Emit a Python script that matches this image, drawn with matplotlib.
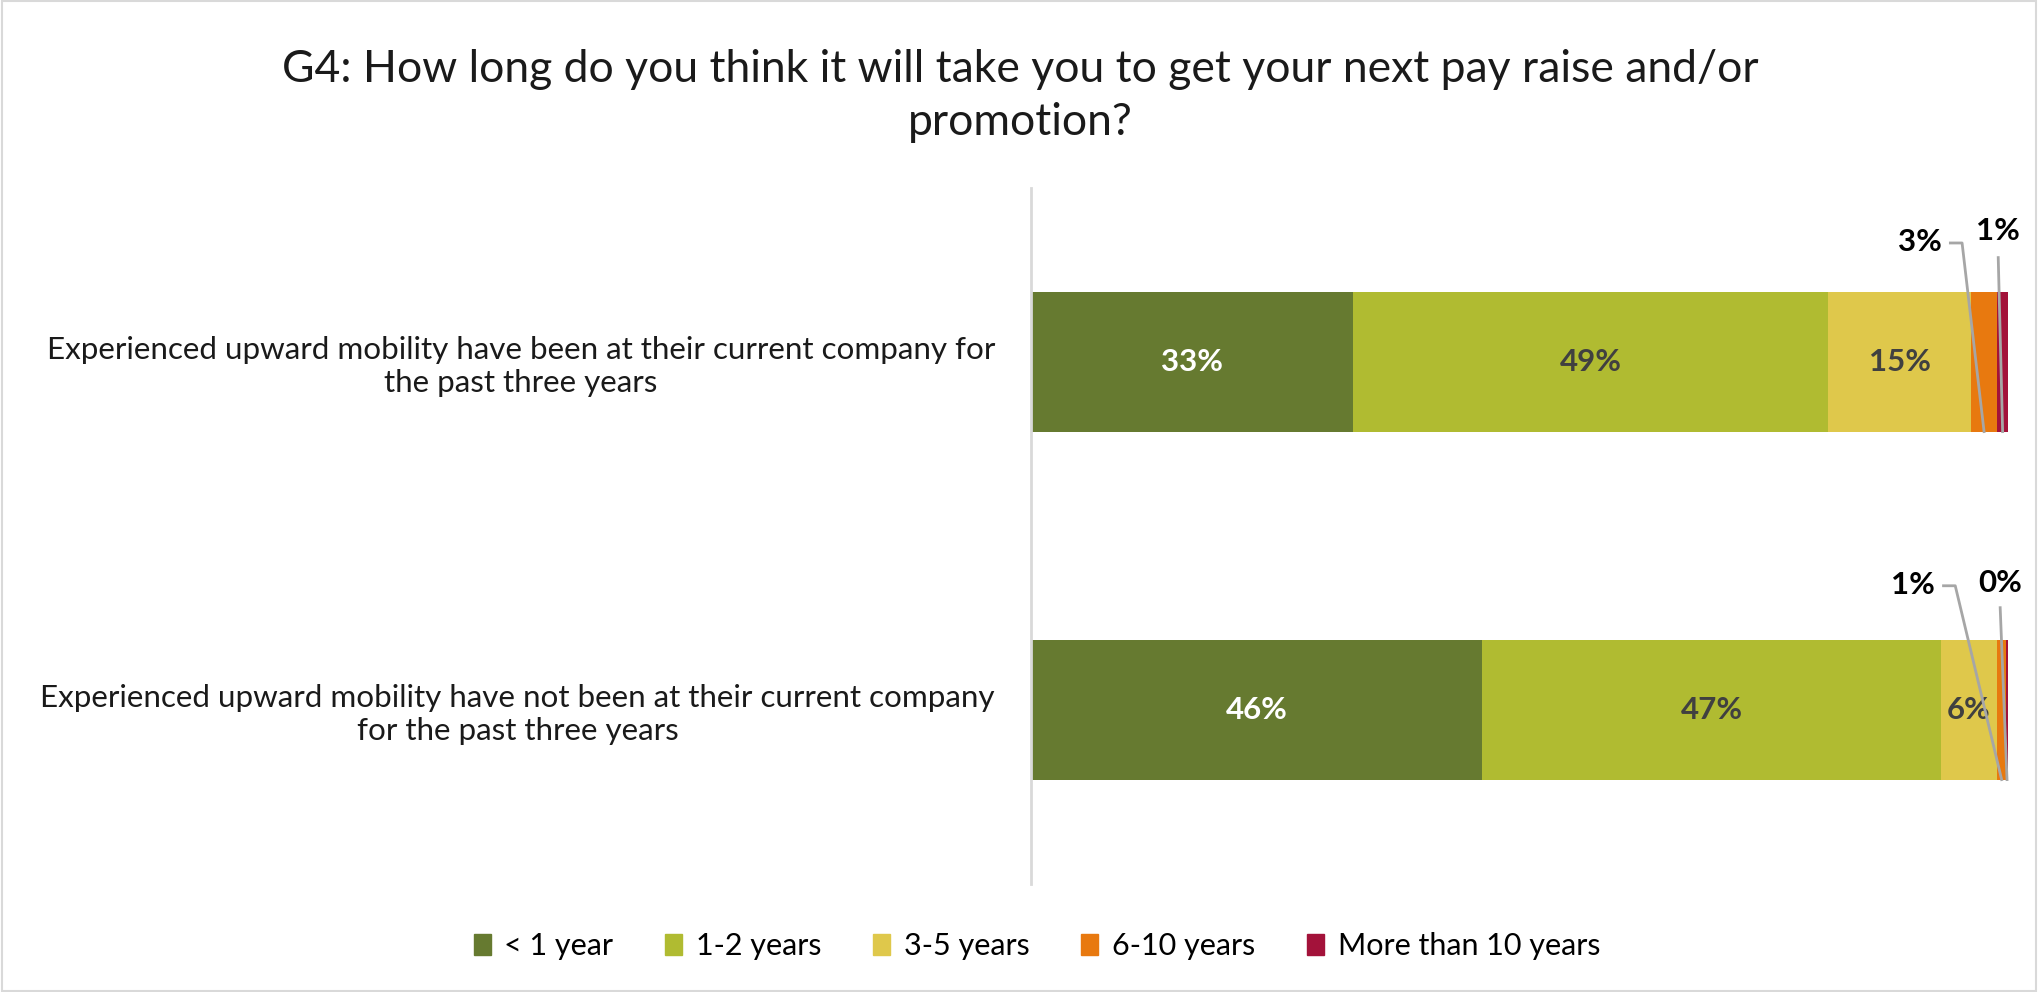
import matplotlib
matplotlib.use("Agg")
import matplotlib.pyplot as plt
from matplotlib.patches import Rectangle
import numpy as np

plt.rcParams['font.family'] = ['Lato', 'DejaVu Sans']

title = "G4: How long do you think it will take you to get your next pay raise and/or\npromotion?"
categories = [
    "Experienced upward mobility have been at their current company for\nthe past three years",
    "Experienced upward mobility have not been at their current company\nfor the past three years",
]
series = ["< 1 year", "1-2 years", "3-5 years", "6-10 years", "More than 10 years"]
values = {
    "< 1 year":           [0.330, 0.462],
    "1-2 years":          [0.486, 0.469],
    "3-5 years":          [0.146, 0.058],
    "6-10 years":         [0.027, 0.009],
    "More than 10 years": [0.011, 0.002],
}
colors = ["#667A30", "#B0BB31", "#DFC84B", "#E8790F", "#A3123A"]
label_colors = ["white", "#404040", "#404040", None, None]

W, H = 2038, 992
fig = plt.figure(figsize=(W / 100, H / 100), dpi=100)
ax = fig.add_axes([1031 / W, 1 - 884 / H, (2008 - 1031) / W, (884 - 188) / H])

y = np.arange(len(categories))
left = np.zeros(len(categories))
bar_h = 0.4
seg_centers = {}
for s, c, lc in zip(series, colors, label_colors):
    v = np.array(values[s])
    ax.barh(y, v, left=left, height=bar_h, color=c, edgecolor='none')
    seg_centers[s] = left + v / 2
    if lc is not None:
        for yi, (l, vi) in enumerate(zip(left, v)):
            ax.text(l + vi / 2, yi, f"{round(vi * 100):.0f}%", ha='center', va='center',
                    color=lc, fontsize=22.5, fontweight='bold')
    left = left + v

# callout labels for small segments
callouts = [
    # series, row, label x, label y, line start x, elbow x, line start y
    ("6-10 years", 0, 0.910, -0.345, 0.941, 0.953, -0.342),
    ("More than 10 years", 0, 0.990, -0.375, None, None, -0.300),
    ("6-10 years", 1, 0.903, 0.640, 0.934, 0.946, 0.643),
    ("More than 10 years", 1, 0.992, 0.635, None, None, 0.706),
]
for s, row, lx, ly, sx, ex, sy in callouts:
    v = values[s][row]
    ax.text(lx, ly, f"{round(v * 100):.0f}%", ha='center', va='center',
            color='black', fontsize=22.5, fontweight='bold', clip_on=False)
    endx = seg_centers[s][row]
    endy = row + bar_h / 2
    if sx is not None:
        ax.plot([sx, ex, endx], [sy, sy, endy], color='#A6A6A6', lw=2, clip_on=False, zorder=5)
    else:
        ax.plot([lx, endx], [sy, endy], color='#A6A6A6', lw=2, clip_on=False, zorder=5)

ax.set_xlim(0, 1)
ax.set_ylim(len(categories) - 0.5, -0.5)
ax.set_xticks([])
ax.set_yticks(y)
ax.set_yticklabels(categories, fontsize=22.6, color='#1a1a1a')
for t in ax.get_yticklabels():
    t.set_multialignment('center')
ax.tick_params(axis='y', length=0, pad=26)
for sp in ['top', 'right', 'bottom']:
    ax.spines[sp].set_visible(False)
ax.spines['left'].set_color('#D9D9D9')
ax.spines['left'].set_linewidth(2)

fig.text(1020 / W, 1 - 96 / H, title, ha='center', va='center', fontsize=32,
         color='#1a1a1a', linespacing=1.35)

handles = [Rectangle((0, 0), 1, 1, color=c) for c in colors]
fig.legend(handles, series, loc='center', bbox_to_anchor=(1037 / W, 1 - 946 / H), ncol=5,
           frameon=False, fontsize=22, handlelength=0.55, handleheight=0.7,
           handletextpad=0.45, columnspacing=1.7)

fig.patches.append(Rectangle((0.001, 0.001), 0.998, 0.998, transform=fig.transFigure,
                             fill=False, edgecolor='#D9D9D9', lw=1.5))

fig.savefig("out.png", dpi=100)
